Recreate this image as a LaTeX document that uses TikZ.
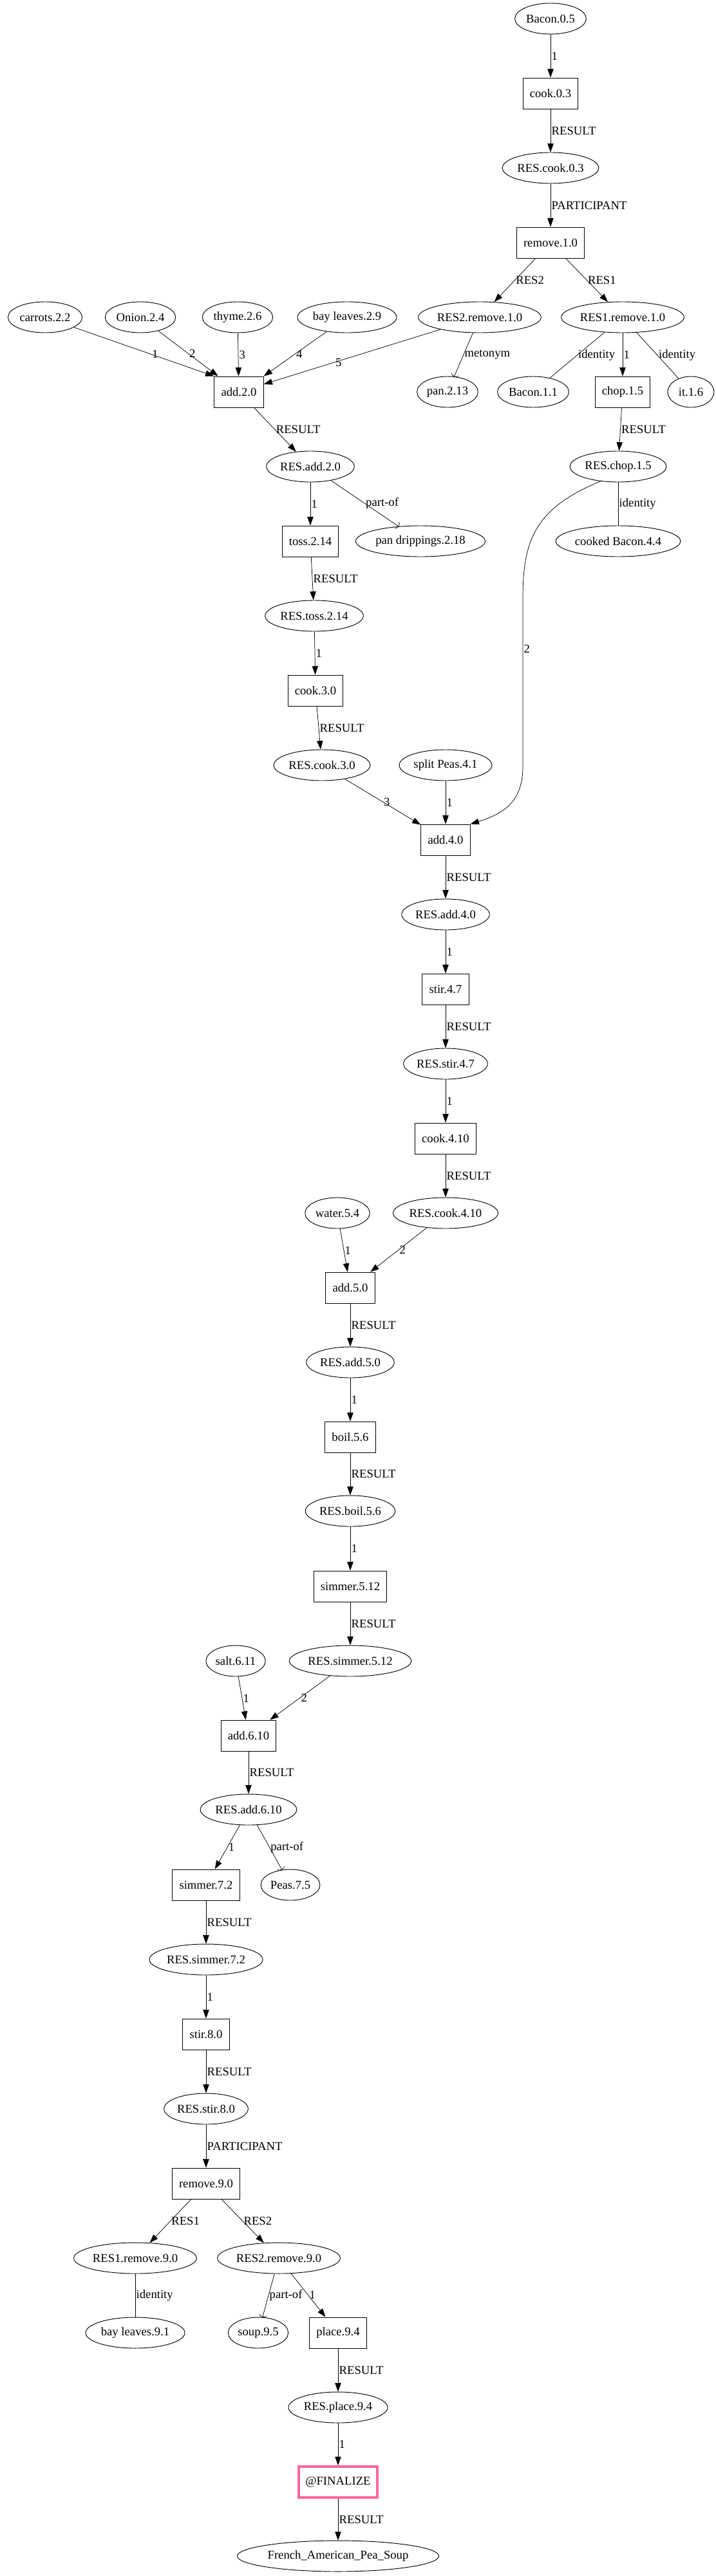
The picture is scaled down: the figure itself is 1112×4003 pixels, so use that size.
\documentclass[tikz,border=0pt]{standalone}
\usepackage{fontspec}
\setmainfont{Liberation Serif}
\usetikzlibrary{arrows.meta, shapes.geometric, calc}
\definecolor{finalpink}{RGB}{255,102,153}

\begin{document}
\begin{tikzpicture}[x=0.75pt, y=-0.75pt,
    font=\fontsize{14}{16}\selectfont,
    ent/.style={ellipse, draw, line width=0.7pt, inner xsep=1pt, inner ysep=1pt, minimum width=54pt, minimum height=36pt},
    act/.style={rectangle, draw, line width=0.7pt, inner xsep=8pt, minimum width=54pt, minimum height=36pt},
    finbox/.style={act, draw=finalpink, line width=3pt},
    arr/.style={-{Triangle[length=10pt, width=7pt]}, line width=0.55pt},
    curvehead/.style={-{Arc Barb[length=2.5pt, width=9pt]}, line width=0.55pt},
    idline/.style={line width=0.55pt},
    lbl/.style={anchor=west, inner sep=1pt}]

    \useasboundingbox (0,0) rectangle (1112,4003);

    % step 0 and 1
    \node[ent] (bacon05) at (855,29) {Bacon.0.5};
    \node[act] (cook03) at (855,145) {cook.0.3};
    \node[ent] (rescook03) at (855,261) {RES.cook.0.3};
    \node[act] (remove10) at (855,377) {remove.1.0};

    \node[ent] (carrots22) at (70,493) {carrots.2.2};
    \node[ent] (onion24) at (218,493) {Onion.2.4};
    \node[ent] (thyme26) at (369,493) {thyme.2.6};
    \node[ent] (bayleaves29) at (539,493) {bay leaves.2.9};
    \node[ent] (res2remove10) at (745,493) {RES2.remove.1.0};
    \node[ent] (res1remove10) at (967,493) {RES1.remove.1.0};

    \node[act] (add20) at (371,609) {add.2.0};
    \node[ent] (pan213) at (695,609) {pan.2.13};
    \node[ent] (bacon11) at (828,609) {Bacon.1.1};
    \node[act] (chop15) at (967,609) {chop.1.5};
    \node[ent] (it16) at (1073,609) {it.1.6};

    % step 2 to 4
    \node[ent] (resadd20) at (482,725) {RES.add.2.0};
    \node[ent] (reschop15) at (960,725) {RES.chop.1.5};
    \node[act] (toss214) at (482,841) {toss.2.14};
    \node[ent] (pandrip218) at (653,841) {pan drippings.2.18};
    \node[ent] (cookedbacon44) at (960,841) {cooked Bacon.4.4};
    \node[ent] (restoss214) at (488,957) {RES.toss.2.14};
    \node[act] (cook30) at (490,1073) {cook.3.0};
    \node[ent] (rescook30) at (500,1189) {RES.cook.3.0};
    \node[ent] (splitpeas41) at (692,1189) {split Peas.4.1};
    \node[act] (add40) at (692,1305) {add.4.0};
    \node[ent] (resadd40) at (692,1421) {RES.add.4.0};
    \node[act] (stir47) at (692,1537) {stir.4.7};
    \node[ent] (resstir47) at (692,1653) {RES.stir.4.7};
    \node[act] (cook410) at (692,1769) {cook.4.10};

    % step 5 to 8
    \node[ent] (water54) at (524,1885) {water.5.4};
    \node[ent] (rescook410) at (692,1885) {RES.cook.4.10};
    \node[act] (add50) at (544,2001) {add.5.0};
    \node[ent] (resadd50) at (544,2117) {RES.add.5.0};
    \node[act] (boil56) at (544,2233) {boil.5.6};
    \node[ent] (resboil56) at (544,2348) {RES.boil.5.6};
    \node[act] (simmer512) at (544,2465) {simmer.5.12};
    \node[ent] (salt611) at (366,2581) {salt.6.11};
    \node[ent] (ressimmer512) at (544,2581) {RES.simmer.5.12};
    \node[act] (add610) at (386,2697) {add.6.10};
    \node[ent] (resadd610) at (386,2812) {RES.add.6.10};
    \node[act] (simmer72) at (320,2929) {simmer.7.2};
    \node[ent] (peas75) at (451,2929) {Peas.7.5};
    \node[ent] (ressimmer72) at (320,3045) {RES.simmer.7.2};
    \node[act] (stir80) at (320,3161) {stir.8.0};
    \node[ent] (resstir80) at (320,3277) {RES.stir.8.0};

    % step 9 and end
    \node[act] (remove90) at (320,3393) {remove.9.0};
    \node[ent] (res1remove90) at (210,3509) {RES1.remove.9.0};
    \node[ent] (res2remove90) at (433,3509) {RES2.remove.9.0};
    \node[ent] (bayleaves91) at (210,3625) {bay leaves.9.1};
    \node[ent] (soup95) at (401,3625) {soup.9.5};
    \node[act] (place94) at (525,3625) {place.9.4};
    \node[ent] (resplace94) at (525,3741) {RES.place.9.4};
    \node[finbox] (finalize) at (525,3857) {@FINALIZE};
    \node[ent] (peasoup) at (525,3972) {French\_American\_Pea\_Soup};

    \draw[arr] (bacon05) -- node[lbl] {1} (cook03);
    \draw[arr] (cook03) -- node[lbl] {RESULT} (rescook03);
    \draw[arr] (rescook03) -- node[lbl] {PARTICIPANT} (remove10);
    \draw[arr] (remove10) -- node[lbl] {RES2} (res2remove10);
    \draw[arr] (remove10) -- node[lbl] {RES1} (res1remove10);

    \draw[arr] (carrots22) -- node[lbl, pos=0.55] {1} (add20.north west);
    \draw[arr] (onion24) -- node[lbl] {2} (add20);
    \draw[arr] (thyme26) -- node[lbl] {3} (add20);
    \draw[arr] (bayleaves29) -- node[lbl] {4} (add20.north east);
    \draw[arr] (res2remove10) -- node[lbl, pos=0.6] {5} (add20);
    \draw[curvehead] (res2remove10) -- node[lbl] {metonym} (pan213);
    \draw[idline] (res1remove10) -- node[lbl] {identity} (bacon11);
    \draw[arr] (res1remove10) -- node[lbl] {1} (chop15);
    \draw[idline] (res1remove10) -- node[lbl] {identity} (it16);

    \draw[arr] (add20) -- node[lbl] {RESULT} (resadd20);
    \draw[arr] (chop15) -- node[lbl] {RESULT} (reschop15);
    \draw[arr] (resadd20) -- node[lbl] {1} (toss214);
    \draw[curvehead] (resadd20) -- node[lbl] {part-of} (pandrip218);
    \draw[idline] (reschop15) -- node[lbl] {identity} (cookedbacon44);
    \draw[arr] (reschop15.220) .. controls (830,790) and (812,840) .. (812,930)
        -- node[lbl, pos=0.3] {2} (812,1190)
        .. controls (812,1240) and (790,1262) .. (add40.north east);
    \draw[arr] (toss214) -- node[lbl] {RESULT} (restoss214);
    \draw[arr] (restoss214) -- node[lbl] {1} (cook30);
    \draw[arr] (cook30) -- node[lbl] {RESULT} (rescook30);
    \draw[arr] (rescook30) -- node[lbl] {3} (add40);
    \draw[arr] (splitpeas41) -- node[lbl] {1} (add40);
    \draw[arr] (add40) -- node[lbl] {RESULT} (resadd40);
    \draw[arr] (resadd40) -- node[lbl] {1} (stir47);
    \draw[arr] (stir47) -- node[lbl] {RESULT} (resstir47);
    \draw[arr] (resstir47) -- node[lbl] {1} (cook410);
    \draw[arr] (cook410) -- node[lbl] {RESULT} (rescook410);

    \draw[arr] (water54) -- node[lbl] {1} (add50);
    \draw[arr] (rescook410) -- node[lbl] {2} (add50);
    \draw[arr] (add50) -- node[lbl] {RESULT} (resadd50);
    \draw[arr] (resadd50) -- node[lbl] {1} (boil56);
    \draw[arr] (boil56) -- node[lbl] {RESULT} (resboil56);
    \draw[arr] (resboil56) -- node[lbl] {1} (simmer512);
    \draw[arr] (simmer512) -- node[lbl] {RESULT} (ressimmer512);
    \draw[arr] (salt611) -- node[lbl] {1} (add610);
    \draw[arr] (ressimmer512) -- node[lbl] {2} (add610);
    \draw[arr] (add610) -- node[lbl] {RESULT} (resadd610);
    \draw[arr] (resadd610) -- node[lbl] {1} (simmer72);
    \draw[curvehead] (resadd610) -- node[lbl] {part-of} (peas75);
    \draw[arr] (simmer72) -- node[lbl] {RESULT} (ressimmer72);
    \draw[arr] (ressimmer72) -- node[lbl] {1} (stir80);
    \draw[arr] (stir80) -- node[lbl] {RESULT} (resstir80);
    \draw[arr] (resstir80) -- node[lbl] {PARTICIPANT} (remove90);

    \draw[arr] (remove90) -- node[lbl] {RES1} (res1remove90);
    \draw[arr] (remove90) -- node[lbl] {RES2} (res2remove90);
    \draw[idline] (res1remove90) -- node[lbl] {identity} (bayleaves91);
    \draw[curvehead] (res2remove90) -- node[lbl] {part-of} (soup95);
    \draw[arr] (res2remove90) -- node[lbl] {1} (place94);
    \draw[arr] (place94) -- node[lbl] {RESULT} (resplace94);
    \draw[arr] (resplace94) -- node[lbl] {1} (finalize);
    \draw[arr] (finalize) -- node[lbl] {RESULT} (peasoup);
\end{tikzpicture}
\end{document}
